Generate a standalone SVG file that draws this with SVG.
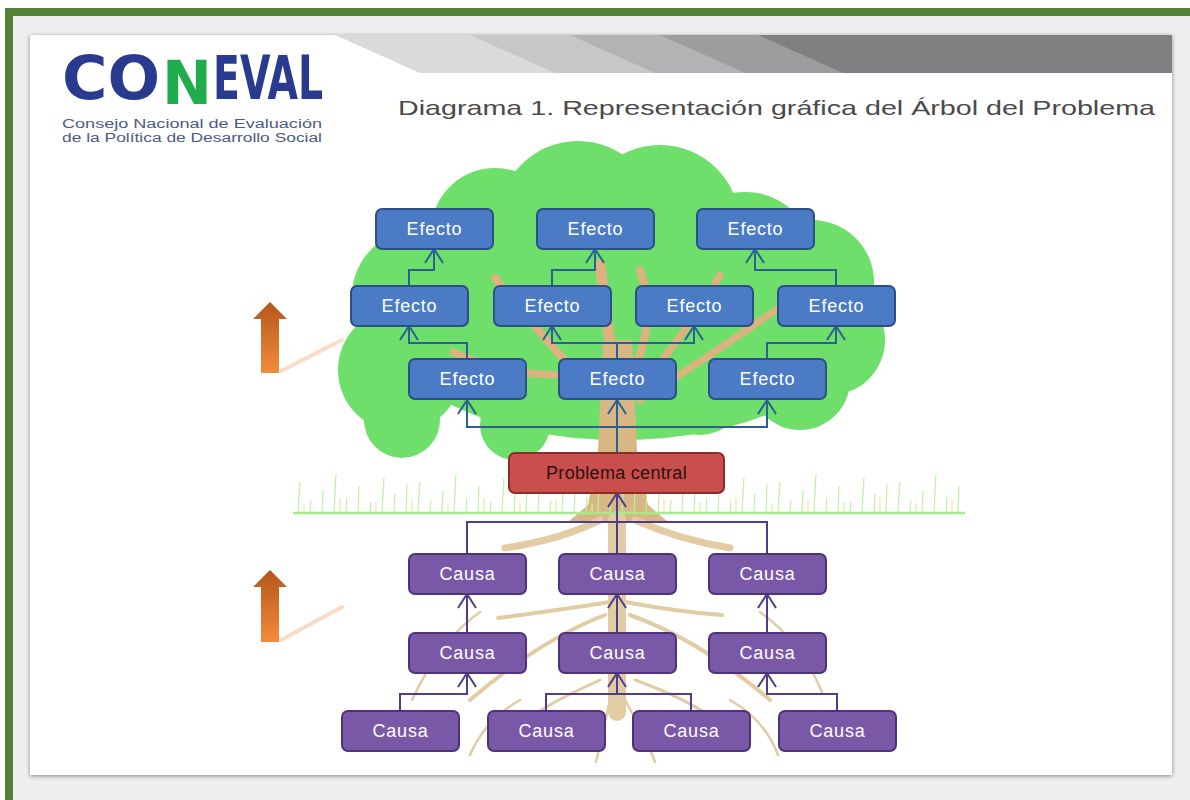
<svg xmlns="http://www.w3.org/2000/svg" width="1190" height="800" viewBox="0 0 1190 800">
<style>
.ef rect{fill:#4a7bc4;stroke:#2c4f86;stroke-width:2}
.ca rect{fill:#7a58a8;stroke:#4d3478;stroke-width:2}
.pc rect{fill:#c94f4c;stroke:#8a2c2a;stroke-width:2}
.ef text,.ca text{fill:#fff;font-family:"Liberation Sans",Arial,sans-serif;font-size:18px;letter-spacing:0.8px;text-anchor:middle}
.pc text{fill:#2b1010;font-family:"Liberation Sans",Arial,sans-serif;font-size:18px;letter-spacing:0.3px;text-anchor:middle}
.ce path{fill:none;stroke:#2c5f93;stroke-width:2}
.cc path{fill:none;stroke:#503c88;stroke-width:2}
.ce path.a{marker-end:url(#ab)}
.cc path.a{marker-end:url(#ap)}
.root{fill:none;stroke:#e2cca4;stroke-linecap:round}
.br{fill:none;stroke:#dcb27e;stroke-linecap:round}
</style>
<defs>
<marker id="ab" viewBox="0 0 16 20" refX="15" refY="10" markerWidth="16" markerHeight="20" markerUnits="userSpaceOnUse" orient="auto"><path d="M1,1 L15,10 L1,19" fill="none" stroke="#2c5f93" stroke-width="2"/></marker>
<marker id="ap" viewBox="0 0 16 20" refX="15" refY="10" markerWidth="16" markerHeight="20" markerUnits="userSpaceOnUse" orient="auto"><path d="M1,1 L15,10 L1,19" fill="none" stroke="#503c88" stroke-width="2"/></marker>
<linearGradient id="og" x1="0" y1="0" x2="0" y2="1"><stop offset="0" stop-color="#b4561c"/><stop offset="1" stop-color="#f28c3c"/></linearGradient>
<filter id="sh" x="-5%" y="-5%" width="110%" height="110%"><feDropShadow dx="0" dy="1" stdDeviation="2" flood-color="#000" flood-opacity="0.45"/></filter>
</defs>

<!-- frame -->
<rect x="0" y="0" width="1190" height="800" fill="#ffffff"/>
<rect x="13" y="16" width="1177" height="784" fill="#efefef"/>
<rect x="5" y="8" width="1185" height="8" fill="#548235"/>
<rect x="5" y="8" width="8" height="792" fill="#548235"/>
<rect x="30" y="35" width="1142" height="740" fill="#ffffff" filter="url(#sh)"/>

<!-- header band -->
<g id="header">
<polygon points="335,35 1172,35 1172,73 420,73" fill="#dadada"/>
<polygon points="470,35 1172,35 1172,73 555,73" fill="#c7c7c8"/>
<polygon points="570,35 1172,35 1172,73 655,73" fill="#b3b3b5"/>
<polygon points="660,35 1172,35 1172,73 745,73" fill="#9d9d9f"/>
<polygon points="758,35 1172,35 1172,73 843,73" fill="#808082"/>
<text x="398" y="115" font-family="'Liberation Sans',Arial,sans-serif" font-size="21" fill="#4a4a4a" textLength="757" lengthAdjust="spacingAndGlyphs">Diagrama 1. Representación gráfica del Árbol del Problema</text>
</g>

<!-- logo -->
<g id="logo" font-family="'DejaVu Sans Condensed','DejaVu Sans',sans-serif" font-weight="bold" font-size="60">
<text x="62" y="99" fill="#2a3b8f" textLength="98" lengthAdjust="spacingAndGlyphs">CO</text>
<text x="162" y="104" fill="#1fae4b" textLength="50" lengthAdjust="spacingAndGlyphs">N</text>
<text x="213" y="99" fill="#2a3b8f" textLength="110" lengthAdjust="spacingAndGlyphs">EVAL</text>
<text x="62" y="128" font-weight="normal" font-size="12" fill="#4d5a85" font-family="'Liberation Sans',Arial,sans-serif" textLength="260" lengthAdjust="spacingAndGlyphs">Consejo Nacional de Evaluación</text>
<text x="62" y="142" font-weight="normal" font-size="12" fill="#4d5a85" font-family="'Liberation Sans',Arial,sans-serif" textLength="260" lengthAdjust="spacingAndGlyphs">de la Política de Desarrollo Social</text>
</g>

<!-- side arrows -->
<g id="side-arrows">
<path d="M281,371 L342,340" stroke="#f8dcc8" stroke-width="4" stroke-linecap="round"/>
<path d="M281,640 L342,607" stroke="#f8dcc8" stroke-width="4" stroke-linecap="round"/>
<polygon points="270,302 253,319 261,319 261,373 279,373 279,319 287,319" fill="url(#og)"/>
<polygon points="270,570 253,587 261,587 261,642 279,642 279,587 287,587" fill="url(#og)"/>
</g>

<!-- tree -->
<g id="tree">
<g fill="#6fdf6b">
<circle cx="495" cy="232" r="64"/>
<circle cx="578" cy="221" r="80"/>
<circle cx="660" cy="225" r="80"/>
<circle cx="745" cy="262" r="70"/>
<circle cx="812" cy="282" r="62"/>
<circle cx="830" cy="340" r="55"/>
<circle cx="800" cy="380" r="50"/>
<circle cx="418" cy="296" r="66"/>
<circle cx="400" cy="370" r="62"/>
<circle cx="402" cy="420" r="38"/>
<circle cx="515" cy="425" r="35"/>
<circle cx="700" cy="390" r="45"/>
<ellipse cx="620" cy="330" rx="230" ry="110"/>
</g>
<g class="br">
<path d="M605,400 Q560,360 495,278" stroke-width="8"/>
<path d="M600,370 Q530,385 453,352" stroke-width="7"/>
<path d="M625,385 Q660,330 640,270" stroke-width="8"/>
<path d="M632,395 Q690,330 720,275" stroke-width="7"/>
<path d="M640,400 Q720,350 790,300" stroke-width="7"/>
<path d="M612,360 L600,265" stroke-width="11"/>
</g>
<polygon points="603,340 632,340 637,450 648,505 668,522 568,522 588,505 598,450" fill="#d9b784"/>
<g class="root">
<path d="M600,520 Q560,540 505,548" stroke-width="7"/>
<path d="M635,520 Q680,540 730,548" stroke-width="7"/>
<path d="M617,520 L617,712" stroke-width="18"/>
<path d="M610,602 Q560,610 498,618" stroke-width="4"/>
<path d="M625,602 Q680,612 722,615" stroke-width="4"/>
<path d="M605,615 Q540,640 470,700" stroke-width="4"/>
<path d="M630,615 Q700,640 770,700" stroke-width="4"/>
<path d="M600,680 Q555,700 525,720" stroke-width="3"/>
<path d="M635,680 Q690,700 715,720" stroke-width="3"/>
<path d="M610,700 Q602,735 596,762" stroke-width="2.5"/>
<path d="M625,700 Q645,735 655,762" stroke-width="2.5"/>
<path d="M480,612 Q440,640 412,700" stroke-width="2.5"/>
<path d="M760,612 Q800,640 822,692" stroke-width="2.5"/>
<path d="M520,700 Q485,720 470,755" stroke-width="2.5"/>
<path d="M730,700 Q765,720 778,755" stroke-width="2.5"/>
</g>
</g>

<!-- grass -->
<g id="grass" fill="none">
<path stroke="#bff0a8" stroke-width="1.2" d="M298,512l2,-30M310,512l1,-12M322,512l1,-22M334,512l2,-38M346,512l1,-15M358,512l1,-26M370,512l1,-10M382,512l2,-34M394,512l1,-18M406,512l1,-28M418,512l2,-30M430,512l1,-12M442,512l1,-22M454,512l2,-38M466,512l1,-15M478,512l1,-26M490,512l1,-10M502,512l2,-34M514,512l1,-18M526,512l1,-28M538,512l2,-30M550,512l1,-12M562,512l1,-22M574,512l2,-38M586,512l1,-15M598,512l1,-26M610,512l1,-10M622,512l2,-34M634,512l1,-18M646,512l1,-28M658,512l2,-30M670,512l1,-12M682,512l1,-22M694,512l2,-38M706,512l1,-15M718,512l1,-26M730,512l1,-10M742,512l2,-34M754,512l1,-18M766,512l1,-28M778,512l2,-30M790,512l1,-12M802,512l1,-22M814,512l2,-38M826,512l1,-15M838,512l1,-26M850,512l1,-10M862,512l2,-34M874,512l1,-18M886,512l1,-28M898,512l2,-30M910,512l1,-12M922,512l1,-22M934,512l2,-38M946,512l1,-15M958,512l1,-26"/>
<path stroke="#e8ec98" stroke-width="1.2" d="M304,512v-8M340,512v-14M376,512v-10M412,512v-12M448,512v-9M484,512v-14M520,512v-10M556,512v-13M592,512v-9M664,512v-12M700,512v-10M736,512v-14M772,512v-9M808,512v-12M844,512v-10M880,512v-14M916,512v-9M952,512v-12"/>
<line x1="293" y1="513" x2="965" y2="513" stroke="#a6eb8a" stroke-width="2.5"/>
</g>

<!-- connectors -->
<g id="connectors">
<g class="ce">
<path class="a" d="M617,453 V400"/>
<path class="a" d="M617,427 H467 V400"/>
<path class="a" d="M617,427 H767 V400"/>
<path class="a" d="M467,359 V343 H409 V326"/>
<path class="a" d="M617,359 V343 H552 V326"/>
<path class="a" d="M617,343 H694 V326"/>
<path class="a" d="M767,359 V343 H836 V326"/>
<path class="a" d="M409,286 V270 H434 V249"/>
<path class="a" d="M552,286 V270 H595 V249"/>
<path class="a" d="M836,286 V270 H755 V249"/>
</g>
<g class="cc">
<path class="a" d="M617,554 V493"/>
<path d="M467,554 V522 H767 V554"/>
<path class="a" d="M467,633 V594"/>
<path class="a" d="M617,633 V594"/>
<path class="a" d="M767,633 V594"/>
<path class="a" d="M400,711 V694 H467 V673"/>
<path d="M546,711 V694 H691 V711"/>
<path class="a" d="M617,694 V673"/>
<path class="a" d="M837,711 V694 H767 V673"/>
</g>
</g>

<!-- nodes -->
<g id="e1" class="ef"><rect x="376" y="209" width="117" height="40" rx="6"/><text x="434.5" y="235">Efecto</text></g>
<g id="e2" class="ef"><rect x="537" y="209" width="117" height="40" rx="6"/><text x="595.5" y="235">Efecto</text></g>
<g id="e3" class="ef"><rect x="697" y="209" width="117" height="40" rx="6"/><text x="755.5" y="235">Efecto</text></g>
<g id="e4" class="ef"><rect x="351" y="286" width="117" height="40" rx="6"/><text x="409.5" y="312">Efecto</text></g>
<g id="e5" class="ef"><rect x="494" y="286" width="117" height="40" rx="6"/><text x="552.5" y="312">Efecto</text></g>
<g id="e6" class="ef"><rect x="636" y="286" width="117" height="40" rx="6"/><text x="694.5" y="312">Efecto</text></g>
<g id="e7" class="ef"><rect x="778" y="286" width="117" height="40" rx="6"/><text x="836.5" y="312">Efecto</text></g>
<g id="e8" class="ef"><rect x="409" y="359" width="117" height="40" rx="6"/><text x="467.5" y="385">Efecto</text></g>
<g id="e9" class="ef"><rect x="559" y="359" width="117" height="40" rx="6"/><text x="617.5" y="385">Efecto</text></g>
<g id="e10" class="ef"><rect x="709" y="359" width="117" height="40" rx="6"/><text x="767.5" y="385">Efecto</text></g>
<g id="problema" class="pc"><rect x="509" y="453" width="215" height="40" rx="6"/><text x="616.5" y="479">Problema central</text></g>
<g id="c1" class="ca"><rect x="409" y="554" width="117" height="40" rx="6"/><text x="467.5" y="580">Causa</text></g>
<g id="c2" class="ca"><rect x="559" y="554" width="117" height="40" rx="6"/><text x="617.5" y="580">Causa</text></g>
<g id="c3" class="ca"><rect x="709" y="554" width="117" height="40" rx="6"/><text x="767.5" y="580">Causa</text></g>
<g id="c4" class="ca"><rect x="409" y="633" width="117" height="40" rx="6"/><text x="467.5" y="659">Causa</text></g>
<g id="c5" class="ca"><rect x="559" y="633" width="117" height="40" rx="6"/><text x="617.5" y="659">Causa</text></g>
<g id="c6" class="ca"><rect x="709" y="633" width="117" height="40" rx="6"/><text x="767.5" y="659">Causa</text></g>
<g id="c7" class="ca"><rect x="342" y="711" width="117" height="40" rx="6"/><text x="400.5" y="737">Causa</text></g>
<g id="c8" class="ca"><rect x="488" y="711" width="117" height="40" rx="6"/><text x="546.5" y="737">Causa</text></g>
<g id="c9" class="ca"><rect x="633" y="711" width="117" height="40" rx="6"/><text x="691.5" y="737">Causa</text></g>
<g id="c10" class="ca"><rect x="779" y="711" width="117" height="40" rx="6"/><text x="837.5" y="737">Causa</text></g>
</svg>
